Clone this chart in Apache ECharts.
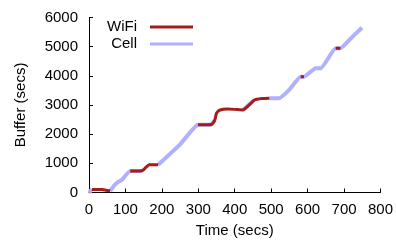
<!DOCTYPE html>
<html>
<head>
<meta charset="utf-8">
<script src="https://cdn.jsdelivr.net/npm/echarts@6/dist/echarts.min.js"></script>
<style>
html,body{margin:0;padding:0;background:#fff;}
#main{width:396px;height:246px;}
</style>
</head>
<body>
<div id="main"></div>
<script>
// time (secs), buffer (secs), and which network carries the segment starting at each point
var times  = [0, 8, 31, 36, 58, 70, 81, 90, 113, 140, 148, 155, 165, 190, 250, 299, 336, 345, 350, 358, 380, 400, 422, 454, 475, 495, 522, 549, 581, 590, 622, 636, 677, 690, 720, 749];
var buffer = [0, 105, 105, 100, 50, 250, 370, 430, 737, 737, 760, 850, 950, 950, 1650, 2320, 2330, 2470, 2720, 2820, 2860, 2850, 2830, 3170, 3220, 3230, 3230, 3514, 3970, 3970, 4258, 4258, 4943, 4943, 5300, 5650];
var net    = ['C','W','W','W','C','C','C','C','W','C','W','W','W','C','C','W','C','W','W','W','W','W','C','W','W','C','C','C','W','C','C','C','W','C','C','C'];
var xTicks = [0, 800, 100];
var yTicks = [0, 6000, 1000];

function seg(kind){
    var out=[];
    for(var i=0;i<times.length;i++){
        var on = net[i]===kind || (i>0 && net[i-1]===kind);
        if(i===times.length-1) on = net[i-1]===kind;
        out.push(on ? [times[i], buffer[i]] : [times[i], null]);
    }
    return out;
}

var font = 'Liberation Sans, Arial, sans-serif';
var chart = echarts.init(document.getElementById('main'));
var option = {
    backgroundColor:'#fff',
    animation:false,
    grid:{left:89, right:14, top:17.5, bottom:53.5},
    xAxis:{
        type:'value', min:xTicks[0], max:xTicks[1], interval:xTicks[2],
        name:'Time (secs)', nameLocation:'middle', nameGap:31,
        nameTextStyle:{fontFamily:font, fontSize:15, color:'#000'},
        axisLine:{lineStyle:{color:'#000', width:1}},
        axisTick:{inside:true, length:4, lineStyle:{color:'#000'}},
        axisLabel:{fontFamily:font, fontSize:15, color:'#000', margin:10, formatter:function(v){return String(v);}},
        splitLine:{show:false}
    },
    yAxis:{
        type:'value', min:yTicks[0], max:yTicks[1], interval:yTicks[2],
        name:'Buffer (secs)', nameLocation:'middle', nameGap:61,
        nameTextStyle:{fontFamily:font, fontSize:15, color:'#000'},
        axisLine:{show:true, lineStyle:{color:'#000', width:1}},
        axisTick:{show:true, inside:true, length:4, lineStyle:{color:'#000'}},
        axisLabel:{fontFamily:font, fontSize:15, color:'#000', margin:11, formatter:function(v){return String(v);}},
        splitLine:{show:false}
    },
    graphic:[
        {type:'text', right:396-137, top:19, style:{text:'WiFi', font:'15px '+font, fill:'#000', textAlign:'right'}},
        {type:'text', right:396-137, top:36, style:{text:'Cell', font:'15px '+font, fill:'#000', textAlign:'right'}},
        {type:'line', shape:{x1:150, y1:27, x2:193, y2:27}, style:{stroke:'#a51c1c', lineWidth:3}},
        {type:'line', shape:{x1:150, y1:44, x2:193, y2:44}, style:{stroke:'#b0b0ff', lineWidth:3}}
    ],
    series:[
        {name:'Cell', type:'line', data:seg('C'), showSymbol:false, connectNulls:false, smooth:0.15,
         lineStyle:{color:'#b0b0ff', width:4}, z:2},
        {name:'WiFi', type:'line', data:seg('W'), showSymbol:false, connectNulls:false, smooth:0.15,
         lineStyle:{color:'#a51c1c', width:3}, z:3}
    ]
};
chart.setOption(option);
</script>
</body>
</html>
